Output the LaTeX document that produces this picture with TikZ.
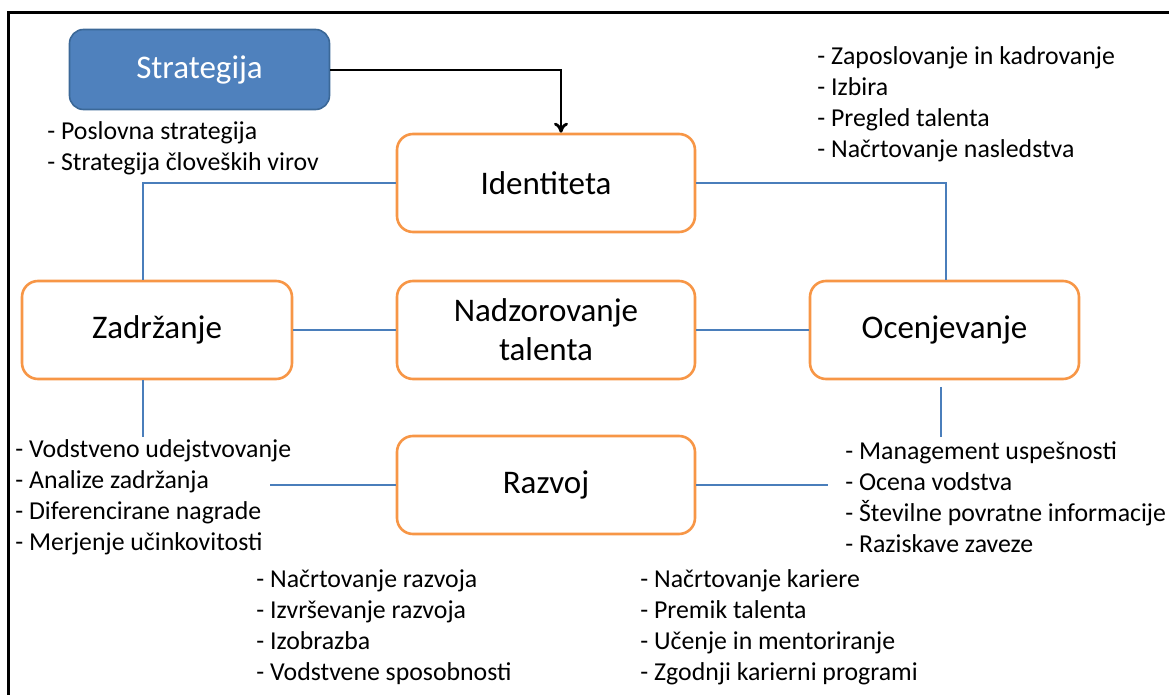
\documentclass[tikz,border=0pt]{standalone}
\usepackage{fontspec}
\setmainfont{Carlito}
\usetikzlibrary{arrows.meta}
\definecolor{orangeB}{HTML}{F79646}
\definecolor{blueF}{HTML}{4F81BD}
\definecolor{blueD}{HTML}{3B6898}
\definecolor{lineB}{HTML}{4A7EBB}
\tikzset{
  box/.style={draw=orangeB, line width=1.3pt, rounded corners=8pt, fill=white,
    minimum width=149pt, minimum height=49pt, inner sep=0pt, align=center,
    font=\fontsize{16.5}{19.5}\selectfont},
  sbox/.style={box, draw=blueD, fill=blueF, text=white, line width=0.8pt,
    minimum width=130pt, minimum height=40pt, rounded corners=7pt},
  conn/.style={draw=lineB, line width=0.7pt},
  lst/.style={anchor=west, inner sep=0pt, align=left,
    font=\fontsize{12.9}{15.5}\selectfont},
  frame/.style={draw=black, line width=1.5pt}
}
\begin{document}
\begin{tikzpicture}[x=0.5pt,y=-0.5pt]
\useasboundingbox (0,0) rectangle (1169,695);
\draw[frame] (8,700) -- (8,13) -- (1175,13);

\node[sbox] (str) at (199.5,69.5) {\raisebox{-2pt}{Strategija}};
\node[box] (ide) at (546,183) {Identiteta};
\node[box, minimum width=135pt] (zad) at (157,330) {Zadržanje};
\node[box] (nad) at (546,330) {Nadzorovanje\\talenta};
\node[box, minimum width=134.5pt] (oce) at (944.5,330) {Ocenjevanje};
\node[box] (raz) at (546,485) {Razvoj};

\node[lst] (l1) at (47,148.5) {- Poslovna strategija\\- Strategija človeških virov};
\node[lst] (l2) at (817,104.5) {- Zaposlovanje in kadrovanje\\- Izbira\\- Pregled talenta\\- Načrtovanje nasledstva};
\node[lst] (l3) at (15,497.5) {- Vodstveno udejstvovanje\\- Analize zadržanja\\- Diferencirane nagrade\\- Merjenje učinkovitosti};
\node[lst] (l4) at (845,497.5) {- Management uspešnosti\\- Ocena vodstva\\- Številne povratne informacije\\- Raziskave zaveze};
\node[lst] (l5) at (256,627.5) {- Načrtovanje razvoja\\- Izvrševanje razvoja\\- Izobrazba\\- Vodstvene sposobnosti};
\node[lst] (l6) at (640,627.5) {- Načrtovanje kariere\\- Premik talenta\\- Učenje in mentoriranje\\- Zgodnji karierni programi};

\coordinate (a1) at (561,70);
\draw[black, line width=1.4pt, -{To[length=5pt,width=7pt]}] (str.east |- a1) -- (a1) -- (a1 |- ide.north);

\coordinate (c1) at (143,183);
\draw[conn] (ide.west |- c1) -- (c1) -- (c1 |- zad.north);
\coordinate (c2) at (946,183);
\draw[conn] (ide.east |- c2) -- (c2) -- (c2 |- oce.north);
\draw[conn] (zad.east) -- (nad.west);
\draw[conn] (nad.east) -- (oce.west);
\coordinate (c3) at (143,437);
\draw[conn] (c3 |- zad.south) -- (c3);
\coordinate (c4) at (941,387);
\coordinate (c5) at (941,437);
\draw[conn] (c4) -- (c5);
\coordinate (c6) at (270,485);
\coordinate (c7) at (828,485);
\draw[conn] (c6) -- (raz.west);
\draw[conn] (raz.east) -- (c7);
\end{tikzpicture}
\end{document}
